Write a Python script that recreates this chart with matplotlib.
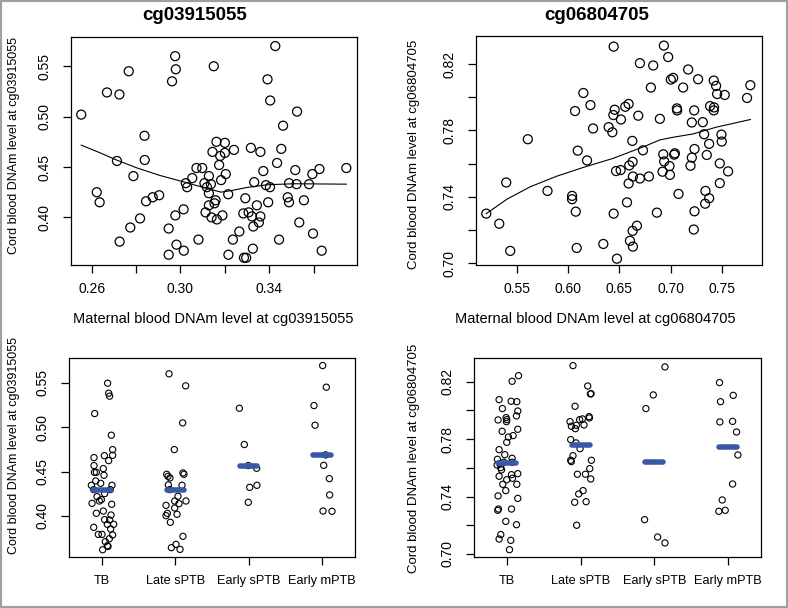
import matplotlib
matplotlib.use("Agg")
import matplotlib.pyplot as plt
from matplotlib.patches import Rectangle

plt.rcParams["font.family"] = ["Liberation Sans", "DejaVu Sans"]

# ---- top-left: cg03915055 maternal vs cord ----
tl_x = [0.2553, 0.2669, 0.2725, 0.2767, 0.2976, 0.2979, 0.2962, 0.3150, 0.3427, 0.3392,
        0.3404, 0.3525, 0.3462, 0.2838, 0.2714, 0.2839, 0.2788, 0.2623, 0.2636, 0.2845,
        0.2875, 0.2904, 0.2818, 0.2774, 0.2726, 0.2947, 0.2977, 0.3014, 0.2982, 0.2947,
        0.3015, 0.3081, 0.3024, 0.3030, 0.3053, 0.3072, 0.3098, 0.3128, 0.3108, 0.3119,
        0.3137, 0.3128, 0.3144, 0.3162, 0.3179, 0.3200, 0.3200, 0.3241, 0.3174, 0.3183,
        0.3204, 0.3215, 0.3158, 0.3153, 0.3128, 0.3113, 0.3140, 0.3164, 0.3189, 0.3216,
        0.3236, 0.3265, 0.3283, 0.3307, 0.3322, 0.3360, 0.3328, 0.3353, 0.3292, 0.3344,
        0.3286, 0.3296, 0.3326, 0.3317, 0.3360, 0.3332, 0.3373, 0.3385, 0.3403, 0.3395,
        0.3435, 0.3454, 0.3444, 0.3483, 0.3489, 0.3489, 0.3517, 0.3523, 0.3535, 0.3556,
        0.3579, 0.3594, 0.3626, 0.3597, 0.3636, 0.3747]
tl_y = [0.502, 0.524, 0.522, 0.545, 0.560, 0.547, 0.535, 0.550, 0.570, 0.537,
        0.516, 0.505, 0.491, 0.481, 0.456, 0.457, 0.441, 0.425, 0.415, 0.416,
        0.420, 0.422, 0.399, 0.390, 0.376, 0.389, 0.402, 0.408, 0.373, 0.363,
        0.367, 0.378, 0.434, 0.430, 0.439, 0.449, 0.449, 0.441, 0.434, 0.430,
        0.433, 0.424, 0.465, 0.475, 0.461, 0.474, 0.464, 0.467, 0.452, 0.437,
        0.443, 0.423, 0.417, 0.414, 0.412, 0.405, 0.400, 0.398, 0.402, 0.363,
        0.378, 0.386, 0.404, 0.405, 0.401, 0.401, 0.391, 0.395, 0.419, 0.412,
        0.360, 0.360, 0.369, 0.469, 0.465, 0.435, 0.446, 0.432, 0.430, 0.415,
        0.454, 0.468, 0.378, 0.420, 0.415, 0.434, 0.447, 0.433, 0.395, 0.417,
        0.433, 0.443, 0.448, 0.384, 0.367, 0.449]
tl_fit_x = [0.2553, 0.2638, 0.2714, 0.2803, 0.2908, 0.3014, 0.3104, 0.3183, 0.3224,
            0.3299, 0.3389, 0.3510, 0.3747]
tl_fit_y = [0.4717, 0.4641, 0.4568, 0.4492, 0.4416, 0.4353, 0.4297, 0.4251, 0.4264,
            0.4297, 0.4324, 0.4334, 0.4330]

# ---- top-right: cg06804705 maternal vs cord ----
tr_x = [0.5201, 0.5328, 0.5396, 0.5435, 0.5607, 0.5799, 0.6039, 0.6039, 0.6075, 0.6084,
        0.6068, 0.6094, 0.6149, 0.6218, 0.6185, 0.6244, 0.6344, 0.6396, 0.6432, 0.6445,
        0.6455, 0.6442, 0.6445, 0.6468, 0.6477, 0.6516, 0.6513, 0.6558, 0.6591, 0.6575,
        0.6597, 0.6591, 0.6630, 0.6627, 0.6633, 0.6604, 0.6630, 0.6633, 0.6672, 0.6685,
        0.6701, 0.6701, 0.6731, 0.6789, 0.6808, 0.6831, 0.6867, 0.6896, 0.6922, 0.6929,
        0.6935, 0.6938, 0.6977, 0.6990, 0.6994, 0.7003, 0.7026, 0.7036, 0.7042, 0.7062,
        0.7065, 0.7078, 0.7123, 0.7172, 0.7195, 0.7208, 0.7208, 0.7227, 0.7234, 0.7234,
        0.7231, 0.7269, 0.7315, 0.7328, 0.7341, 0.7338, 0.7354, 0.7377, 0.7377, 0.7386,
        0.7422, 0.7425, 0.7422, 0.7445, 0.7455, 0.7481, 0.7481, 0.7497, 0.7500, 0.7529,
        0.7562, 0.7747, 0.7779]
tr_y = [0.7298, 0.7237, 0.7486, 0.7073, 0.7747, 0.7435, 0.7405, 0.7385, 0.7310, 0.7091,
        0.7917, 0.7678, 0.8026, 0.7953, 0.7619, 0.7812, 0.7115, 0.7820, 0.7789, 0.8306,
        0.7925, 0.7893, 0.7298, 0.7555, 0.7026, 0.7866, 0.7561, 0.7943, 0.7960, 0.7366,
        0.7589, 0.7480, 0.7611, 0.7737, 0.7522, 0.7134, 0.7194, 0.7099, 0.7225, 0.7889,
        0.7510, 0.8206, 0.7680, 0.7522, 0.8059, 0.8192, 0.7304, 0.7870, 0.7551, 0.7656,
        0.8312, 0.7613, 0.8243, 0.7585, 0.7532, 0.8107, 0.8117, 0.7654, 0.7662, 0.7933,
        0.7921, 0.7417, 0.8059, 0.8168, 0.7587, 0.7636, 0.7848, 0.7202, 0.7688, 0.7312,
        0.7921, 0.8109, 0.7850, 0.7777, 0.7435, 0.7358, 0.7652, 0.7719, 0.7391, 0.7947,
        0.7921, 0.7939, 0.8101, 0.8069, 0.8020, 0.7601, 0.7482, 0.7775, 0.7733, 0.8014,
        0.7553, 0.7996, 0.8073]
tr_fit_x = [0.5201, 0.5403, 0.5630, 0.5890, 0.6149, 0.6442, 0.6636, 0.6766, 0.6896,
            0.7026, 0.7221, 0.7448, 0.7779]
tr_fit_y = [0.7298, 0.7385, 0.7460, 0.7524, 0.7577, 0.7632, 0.7678, 0.7709, 0.7743,
            0.7759, 0.7779, 0.7820, 0.7866]

# ---- bottom panels: cord blood DNAm by birth group ----
groups = ["TB", "Late sPTB", "Early sPTB", "Early mPTB"]

bl_y = [
    [0.5496, 0.5383, 0.5350, 0.5154, 0.4910, 0.4748, 0.4658, 0.4680, 0.4684, 0.4624,
     0.4568, 0.4534, 0.4492, 0.4492, 0.4459, 0.4395, 0.4368, 0.4346, 0.4346, 0.4297,
     0.4297, 0.4252, 0.4218, 0.4184, 0.4169, 0.4143, 0.4132, 0.4030, 0.4056, 0.4011,
     0.3955, 0.3959, 0.3906, 0.3906, 0.3872, 0.3853, 0.3793, 0.3793, 0.3786, 0.3744,
     0.3711, 0.3665, 0.3620, 0.3658],
    [0.5602, 0.5466, 0.5049, 0.4748, 0.4470, 0.4447, 0.4429, 0.4485, 0.4470, 0.4350,
     0.4346, 0.4297, 0.4222, 0.4169, 0.4169, 0.4139, 0.4120, 0.4090, 0.4030, 0.4019,
     0.4004, 0.3929, 0.3771, 0.3680, 0.3643, 0.3624],
    [0.5214, 0.4805, 0.4568, 0.4538, 0.4346, 0.4323, 0.4154],
    [0.5695, 0.5451, 0.5244, 0.5023, 0.4688, 0.4571, 0.4421, 0.4237, 0.4056, 0.4053],
]
bl_jitter = [
    [0.077, 0.091, 0.104, -0.100, 0.127, 0.145, -0.109, 0.032, 0.145, 0.091,
     -0.109, 0.018, -0.104, -0.077, 0.027, -0.086, -0.018, -0.145, 0.136, -0.113,
     0.113, 0.036, -0.068, -0.009, -0.036, -0.136, 0.132, -0.077, 0.018, 0.123,
     0.104, 0.036, 0.159, 0.073, -0.113, 0.118, -0.050, 0.000, 0.145, 0.100,
     0.045, 0.073, 0.009, 0.082],
    [-0.086, 0.141, 0.100, -0.014, -0.118, -0.100, -0.073, 0.104, 0.118, -0.095,
     0.091, -0.077, 0.036, -0.009, 0.145, 0.050, -0.127, -0.009, -0.109, 0.023,
     -0.127, -0.068, 0.104, 0.009, -0.054, 0.064],
    [-0.127, -0.059, -0.005, 0.109, 0.113, 0.014, -0.005],
    [0.009, 0.059, -0.109, -0.095, 0.050, 0.023, 0.100, 0.104, 0.014, 0.136],
]
bl_means = [0.4293, 0.4293, 0.4568, 0.4692]

br_y = [
    [0.8241, 0.8202, 0.8074, 0.8063, 0.8060, 0.8012, 0.7995, 0.7933, 0.7949, 0.7935,
     0.7961, 0.7921, 0.7868, 0.7854, 0.7814, 0.7824, 0.7777, 0.7726, 0.7691, 0.7666,
     0.7659, 0.7638, 0.7638, 0.7629, 0.7619, 0.7601, 0.7585, 0.7559, 0.7552, 0.7541,
     0.7527, 0.7517, 0.7485, 0.7485, 0.7441, 0.7404, 0.7387, 0.7313, 0.7304, 0.7313,
     0.7227, 0.7204, 0.7135, 0.7104, 0.7095, 0.7030],
    [0.8311, 0.8169, 0.8116, 0.8114, 0.8028, 0.7921, 0.7956, 0.7947, 0.7935, 0.7940,
     0.7889, 0.7896, 0.7898, 0.7872, 0.7796, 0.7773, 0.7733, 0.7684, 0.7643, 0.7652,
     0.7652, 0.7594, 0.7555, 0.7555, 0.7522, 0.7441, 0.7418, 0.7364, 0.7360, 0.7200],
    [0.8302, 0.8107, 0.8012, 0.7239, 0.7118, 0.7077],
    [0.8193, 0.8104, 0.8060, 0.7919, 0.7923, 0.7849, 0.7689, 0.7487, 0.7376, 0.7297,
     0.7304],
]
br_jitter = [
    [0.155, 0.068, -0.109, 0.055, 0.132, -0.064, 0.145, -0.123, -0.014, -0.005,
     0.127, -0.009, 0.145, -0.068, 0.018, 0.082, -0.005, -0.109, -0.032, 0.068,
     -0.132, -0.045, 0.068, -0.100, -0.136, -0.086, -0.077, 0.145, 0.059, -0.109,
     0.073, -0.005, -0.059, 0.132, -0.018, -0.123, 0.145, -0.118, -0.127, 0.059,
     -0.018, 0.127, -0.086, -0.109, 0.050, 0.032],
    [-0.105, 0.095, 0.141, 0.132, -0.077, -0.145, 0.114, 0.118, -0.014, 0.023,
     -0.127, -0.059, 0.045, -0.073, -0.136, -0.064, -0.009, -0.105, -0.127, -0.136,
     0.145, 0.123, -0.045, 0.064, 0.136, 0.032, -0.027, 0.073, -0.082, -0.055],
    [0.145, -0.014, -0.114, -0.132, 0.045, 0.145],
    [-0.114, 0.073, -0.100, -0.109, 0.064, 0.118, 0.136, 0.064, -0.077, -0.123,
     -0.036],
]
br_means = [0.7636, 0.7759, 0.7643, 0.7747]

W, H = 788, 608
fig = plt.figure(figsize=(W / 100, H / 100), dpi=100)


def px_axes(left, top, right, bottom):
    return fig.add_axes([left / W, 1 - bottom / H, (right - left) / W, (bottom - top) / H])


def style(ax):
    for s in ax.spines.values():
        s.set_linewidth(0.9)
    ax.tick_params(direction="out", length=6, width=0.9, labelsize=10, colors="black")
    ax.tick_params(axis="x", pad=6)
    ax.tick_params(axis="y", pad=8)
    for lab in ax.get_yticklabels():
        lab.set_rotation(90)
        lab.set_va("center")


def ylab_fmt(ax, ticks, shown):
    ax.set_yticks(ticks)
    ax.set_yticklabels([f"{t:.2f}" if f"{t:.2f}" in shown else "" for t in ticks])


# top-left
ax1 = px_axes(71, 37, 357, 265)
ax1.scatter(tl_x, tl_y, s=42, facecolors="none", edgecolors="black", linewidths=0.9)
ax1.plot(tl_fit_x, tl_fit_y, color="black", lw=0.8)
ax1.set_xlim(0.2507, 0.3795)
ax1.set_ylim(0.3528, 0.579)
ax1.set_xticks([0.26, 0.28, 0.30, 0.32, 0.34, 0.36])
ax1.set_xticklabels(["0.26", "", "0.30", "", "0.34", ""])
ylab_fmt(ax1, [0.40, 0.45, 0.50, 0.55], ["0.40", "0.45", "0.50", "0.55"])
style(ax1)

# top-right
ax2 = px_axes(476, 36, 762, 265)
ax2.scatter(tr_x, tr_y, s=42, facecolors="none", edgecolors="black", linewidths=0.9)
ax2.plot(tr_fit_x, tr_fit_y, color="black", lw=0.8)
ax2.set_xlim(0.5101, 0.7893)
ax2.set_ylim(0.6988, 0.837)
ax2.set_xticks([0.55, 0.60, 0.65, 0.70, 0.75])
ax2.set_xticklabels(["0.55", "0.60", "0.65", "0.70", "0.75"])
ylab_fmt(ax2, [0.70, 0.72, 0.74, 0.76, 0.78, 0.80, 0.82], ["0.70", "0.74", "0.78", "0.82"])
style(ax2)


def strip(ax, ys, jit, means):
    for i, (vals, offs) in enumerate(zip(ys, jit)):
        xs = [i + 1 + o for o in offs]
        ax.scatter(xs, vals, s=20, facecolors="none", edgecolors="black", linewidths=0.8,
                   zorder=2)
        ax.plot([i + 1 - 0.12, i + 1 + 0.12], [means[i], means[i]], color="#3a58a8",
                lw=4, solid_capstyle="round", zorder=3)
    ax.set_xlim(0.55, 4.45)
    ax.set_xticks([1, 2, 3, 4])
    ax.set_xticklabels(groups)


# bottom-left
ax3 = px_axes(69, 358, 355, 557)
strip(ax3, bl_y, bl_jitter, bl_means)
ax3.set_ylim(0.3538, 0.578)
ylab_fmt(ax3, [0.40, 0.45, 0.50, 0.55], ["0.40", "0.45", "0.50", "0.55"])
style(ax3)

# bottom-right
ax4 = px_axes(474, 358, 761, 557)
strip(ax4, br_y, br_jitter, br_means)
ax4.set_ylim(0.6979, 0.8364)
ylab_fmt(ax4, [0.70, 0.72, 0.74, 0.76, 0.78, 0.80, 0.82], ["0.70", "0.74", "0.78", "0.82"])
style(ax4)

for ax in (ax3, ax4):
    ax.tick_params(axis="x", labelsize=9.2, pad=7)


def ftext(x, y, s, **kw):
    fig.text(x / W, 1 - y / H, s, ha="center", va="center", **kw)


ftext(195, 16, "cg03915055", fontsize=13.5, fontweight="bold")
ftext(597, 16, "cg06804705", fontsize=13.5, fontweight="bold")
ftext(213, 319, "Maternal blood DNAm level at cg03915055", fontsize=10.5)
ftext(595, 319, "Maternal blood DNAm level at cg06804705", fontsize=10.5)
ftext(14, 145, "Cord blood DNAm level at cg03915055", fontsize=9, rotation=90)
ftext(414, 154, "Cord blood DNAm level at cg06804705", fontsize=9.5, rotation=90)
ftext(14, 445, "Cord blood DNAm level at cg03915055", fontsize=9, rotation=90)
ftext(414, 458, "Cord blood DNAm level at cg06804705", fontsize=9.5, rotation=90)

# grey frame around the whole picture
fig.patches.append(Rectangle((0, 0), 1, 1, transform=fig.transFigure, fill=False,
                             edgecolor="#a0a0a0", lw=3))

fig.savefig("out.png", dpi=100)
